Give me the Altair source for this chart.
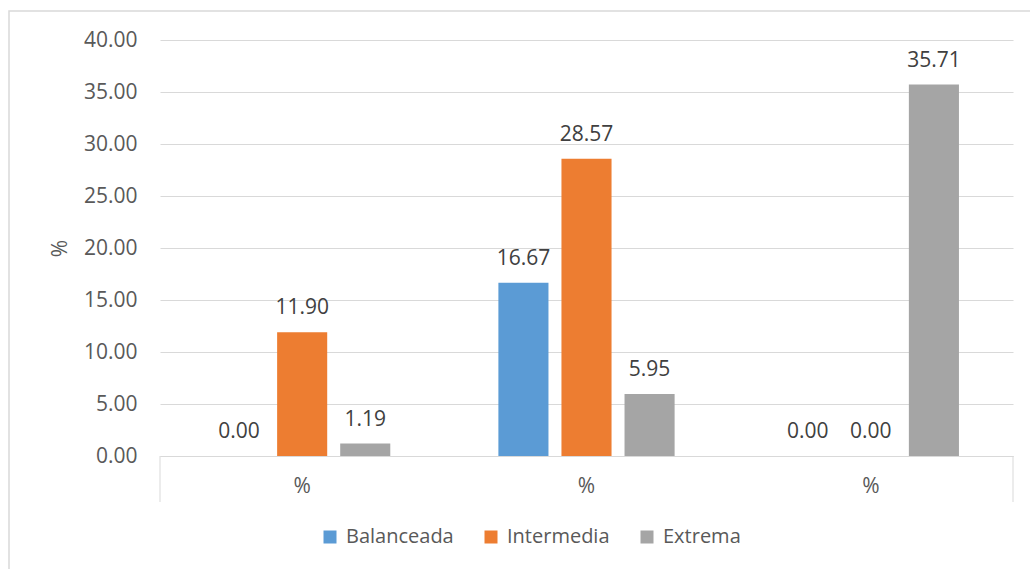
import altair as alt
import pandas as pd

groups = ["g1", "g2", "g3"]
series = ["Balanceada", "Intermedia", "Extrema"]
colors = ["#5B9BD5", "#ED7D31", "#A5A5A5"]
balanceada = [0.00, 16.67, 0.00]
intermedia = [11.90, 28.57, 0.00]
extrema = [1.19, 5.95, 35.71]
y_ticks = [0, 5, 10, 15, 20, 25, 30, 35, 40]

rows = []
for i, g in enumerate(groups):
    for s, vals in zip(series, [balanceada, intermedia, extrema]):
        rows.append({"grupo": g, "serie": s, "valor": vals[i]})
df = pd.DataFrame(rows)

W, H = 853, 416
FONT = "Open Sans"
FS = 21
GRID = "#D9D9D9"

x_enc = alt.X(
    "grupo:N", sort=groups,
    scale=alt.Scale(paddingInner=0, paddingOuter=0),
    axis=alt.Axis(title=None, labelExpr="'%'", ticks=False, domain=True,
                  domainColor=GRID, labelPadding=19, labelAngle=0),
)
y_enc = alt.Y(
    "valor:Q",
    scale=alt.Scale(domain=[0, 40], nice=False),
    axis=alt.Axis(values=y_ticks, format=".2f", title="%", grid=True,
                  gridColor=GRID, domain=False, ticks=False, labelPadding=23,
                  titleX=-100, titleY=208, titleAngle=270,
                  titleAlign="center", titleBaseline="middle"),
)
xoff = alt.XOffset("serie:N", sort=series,
                   scale=alt.Scale(paddingInner=0.206, paddingOuter=0.857))

base = alt.Chart(df)

bars = base.mark_bar().encode(
    x=x_enc, y=y_enc, xOffset=xoff,
    color=alt.Color(
        "serie:N", sort=series,
        scale=alt.Scale(domain=series, range=colors),
        legend=alt.Legend(orient="none", legendX=160, legendY=487,
                          direction="horizontal", title=None,
                          symbolType="square", symbolSize=169,
                          symbolStrokeWidth=0, labelFontSize=20,
                          labelFont=FONT, labelColor="#595959",
                          columnPadding=27, labelOffset=6),
    ),
)

labels = base.mark_text(baseline="alphabetic", dy=-18, fontSize=FS,
                        color="#404040", font=FONT).encode(
    x=x_enc, y=y_enc, xOffset=xoff,
    text=alt.Text("valor:Q", format=".2f"),
)

left_tick = alt.Chart(pd.DataFrame({"a": [0]})).mark_rule(
    color=GRID, strokeWidth=1).encode(
    x=alt.value(0), y=alt.value(H), y2=alt.value(H + 46),
)
end_tick = alt.Chart(pd.DataFrame({"a": [0]})).mark_rule(
    color=GRID, strokeWidth=1).encode(
    x=alt.value(W), y=alt.value(H), y2=alt.value(H + 46),
)
frame = alt.Chart(pd.DataFrame({"a": [0]})).mark_rect(
    fill="white", fillOpacity=0, stroke=GRID, strokeWidth=1.5).encode(
    x=alt.value(-151), x2=alt.value(880), y=alt.value(-29), y2=alt.value(540),
)

chart = alt.layer(frame, bars, labels, left_tick, end_tick).properties(
    width=W, height=H,
    padding={"left": 160, "top": 40, "right": 17, "bottom": 113},
    autosize=alt.AutoSizeParams(type="none"),
).configure_view(stroke=None).configure_axis(
    labelFont=FONT, labelFontSize=FS, labelColor="#595959",
    titleFont=FONT, titleFontSize=FS, titleColor="#595959", titleFontWeight="normal",
)

chart.save("out.html", embed_options={"renderer": "svg", "actions": False})
